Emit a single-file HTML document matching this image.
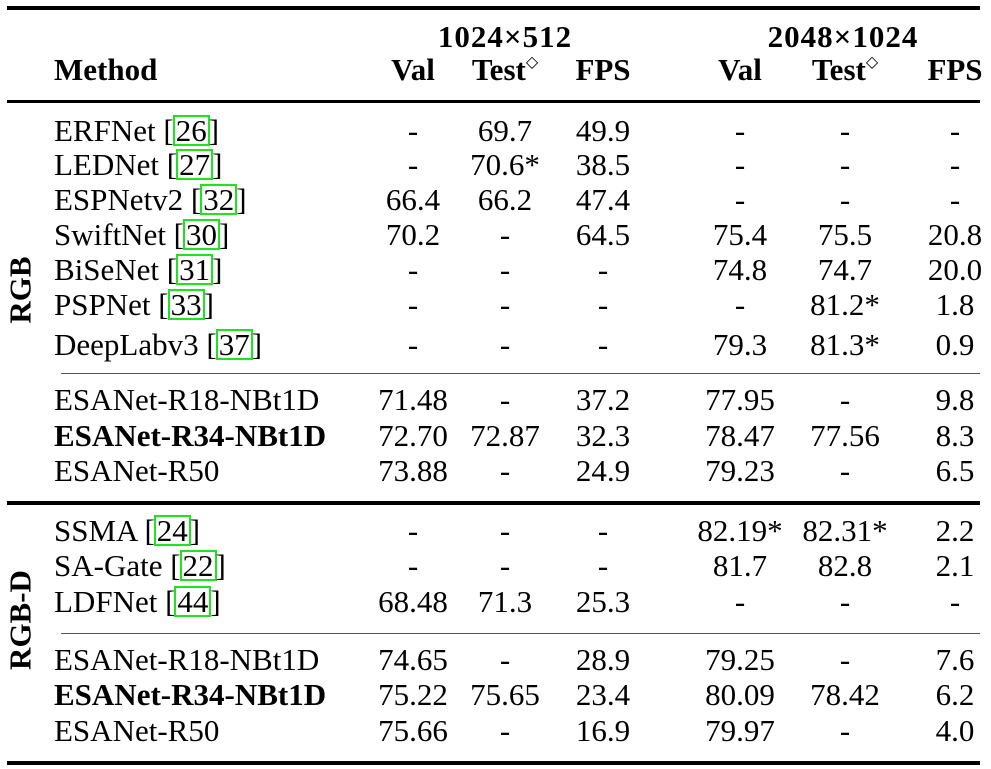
<!DOCTYPE html>
<html><head><meta charset="utf-8"><style>
body{margin:0;width:991px;height:769px;background:#fff;position:relative;overflow:hidden;font-family:"Liberation Serif",serif;color:#000}
.t{position:absolute;font-size:31px;line-height:31px;white-space:nowrap}
.c{transform:translateX(-50%)}
.b{font-weight:bold}
.r{position:absolute;background:#000}
.g{display:inline-block;border:2px solid #1ee41e;padding:0 1px;margin:0 -1px;line-height:27px;vertical-align:baseline}
.sp{position:relative;top:-13px;font-size:16px;font-weight:normal;line-height:0}
.rot{position:absolute;font-size:31px;font-weight:bold;transform:translate(-50%,-50%) rotate(-90deg);white-space:nowrap;line-height:31px}
</style></head><body>
<div class="r" style="left:7px;top:6px;width:973px;height:4px"></div>
<div class="r" style="left:7px;top:100px;width:973px;height:3px"></div>
<div class="r" style="left:61px;top:373px;width:919px;height:1px;background:#555"></div>
<div class="r" style="left:7px;top:501px;width:973px;height:4px"></div>
<div class="r" style="left:61px;top:633px;width:919px;height:1px;background:#555"></div>
<div class="r" style="left:7px;top:761px;width:973px;height:4px"></div>
<div class="t b c" style="left:505px;top:21px;letter-spacing:1px">1024×512</div>
<div class="t b c" style="left:843px;top:21px;letter-spacing:1px">2048×1024</div>
<div class="t b" style="left:54px;top:54px">Method</div>
<div class="rot" style="left:20px;top:290px">RGB</div>
<div class="rot" style="left:20px;top:620px">RGB-D</div>
<div id="rows"></div>
<script>
var cx=[413,505,603,740,845,955];
var hdr=["Val","Test<span class='sp'>◇</span>","FPS","Val","Test<span class='sp'>◇</span>","FPS"];
var h="";
hdr.forEach(function(s,i){h+='<div class="t b c" style="left:'+cx[i]+'px;top:54px">'+s+'</div>';});
var rows=[
[141,'ERFNet [<span class="g">26</span>]',0,['-','69.7','49.9','-','-','-']],
[175,'LEDNet [<span class="g">27</span>]',0,['-','70.6*','38.5','-','-','-']],
[210,'ESPNetv2 [<span class="g">32</span>]',0,['66.4','66.2','47.4','-','-','-']],
[245,'SwiftNet [<span class="g">30</span>]',0,['70.2','-','64.5','75.4','75.5','20.8']],
[280,'BiSeNet [<span class="g">31</span>]',0,['-','-','-','74.8','74.7','20.0']],
[315,'PSPNet [<span class="g">33</span>]',0,['-','-','-','-','81.2*','1.8']],
[355,'DeepLabv3 [<span class="g">37</span>]',0,['-','-','-','79.3','81.3*','0.9']],
[410,'ESANet-R18-NBt1D',0,['71.48','-','37.2','77.95','-','9.8']],
[446,'ESANet-R34-NBt1D',1,['72.70','72.87','32.3','78.47','77.56','8.3']],
[481,'ESANet-R50',0,['73.88','-','24.9','79.23','-','6.5']],
[541,'SSMA [<span class="g">24</span>]',0,['-','-','-','82.19*','82.31*','2.2']],
[576,'SA-Gate [<span class="g">22</span>]',0,['-','-','-','81.7','82.8','2.1']],
[612,'LDFNet [<span class="g">44</span>]',0,['68.48','71.3','25.3','-','-','-']],
[670,'ESANet-R18-NBt1D',0,['74.65','-','28.9','79.25','-','7.6']],
[705,'ESANet-R34-NBt1D',1,['75.22','75.65','23.4','80.09','78.42','6.2']],
[741,'ESANet-R50',0,['75.66','-','16.9','79.97','-','4.0']]
];
rows.forEach(function(r){
 var top=r[0]-26;
 h+='<div class="t'+(r[2]?' b':'')+'" style="left:54px;top:'+top+'px">'+r[1]+'</div>';
 r[3].forEach(function(v,i){h+='<div class="t c" style="left:'+cx[i]+'px;top:'+top+'px">'+v+'</div>';});
});
document.getElementById('rows').innerHTML=h;
</script>
</body></html>
